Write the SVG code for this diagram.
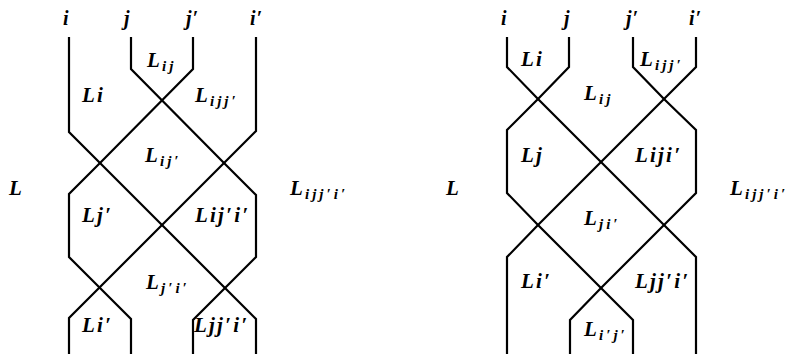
<svg xmlns="http://www.w3.org/2000/svg" width="790" height="354" viewBox="0 0 790 354">
<style>
.s{fill:none;stroke:#000;stroke-width:2.2;stroke-linejoin:miter}
text{font-family:"Liberation Serif","DejaVu Serif",serif;font-style:italic;font-weight:bold;font-size:21px;fill:#000;letter-spacing:2.2px}
.sb{font-size:15px;letter-spacing:3px}
.top{font-size:20px;letter-spacing:1px}
</style>
<rect width="790" height="354" fill="#fff"/>
<g id="left-strands">
<polyline class="s" points="69,37 69,132 100,163 162,225 224,287 256,319 256,354"/>
<polyline class="s" points="131,37 131,69 224,163 256,195 256,257 224,289 193,320 193,354"/>
<polyline class="s" points="193,37 193,69 100,163 69,194 69,257 100,288 131,319 131,354"/>
<polyline class="s" points="256,37 256,131 224,163 162,225 100,287 69,318 69,354"/>
</g>
<g id="left-labels">
<g id="l-i"><text class="top" x="63" y="25">i</text></g>
<g id="l-j"><text class="top" x="124" y="25">j</text></g>
<g id="l-jp"><text class="top" x="186" y="25">j′</text></g>
<g id="l-ip"><text class="top" x="250" y="25">i′</text></g>
<g id="l-Lij"><text x="147" y="67">L<tspan class="sb" dy="4">ij</tspan></text></g>
<g id="l-Li"><text x="82" y="102">Li</text></g>
<g id="l-Lijj"><text x="195" y="102">L<tspan class="sb" dy="4">ijj′</tspan></text></g>
<g id="l-Lijp"><text x="145" y="162">L<tspan class="sb" dy="4">ij′</tspan></text></g>
<g id="l-L"><text x="9" y="195">L</text></g>
<g id="l-Lijjii"><text x="290" y="195">L<tspan class="sb" dy="4">ijj′i′</tspan></text></g>
<g id="l-Ljp"><text x="82" y="222">Lj′</text></g>
<g id="l-Lijpip"><text x="195" y="222">Lij′i′</text></g>
<g id="l-Ljpip"><text x="146" y="289">L<tspan class="sb" dy="4">j′i′</tspan></text></g>
<g id="l-Lip"><text x="82" y="332">Li′</text></g>
<g id="l-Ljjpip"><text x="194" y="332">Ljj′i′</text></g>
</g>
<g id="right-strands">
<polyline class="s" points="507,37 507,67 538,99 601,162 664,225 696,257 696,354"/>
<polyline class="s" points="569,37 569,67 538,99 507,130 507,193 538,225 601,288 633,320 633,354"/>
<polyline class="s" points="633,37 633,67 664,99 696,130 696,193 664,225 601,288 570,320 570,354"/>
<polyline class="s" points="696,37 696,67 664,99 601,162 538,225 507,257 507,354"/>
</g>
<g id="right-labels">
<g id="r-i"><text class="top" x="501" y="25">i</text></g>
<g id="r-j"><text class="top" x="564" y="25">j</text></g>
<g id="r-jp"><text class="top" x="626" y="25">j′</text></g>
<g id="r-ip"><text class="top" x="689" y="25">i′</text></g>
<g id="r-Li"><text x="521" y="66">Li</text></g>
<g id="r-Lijj"><text x="640" y="66">L<tspan class="sb" dy="4">ijj′</tspan></text></g>
<g id="r-Lij"><text x="584" y="100">L<tspan class="sb" dy="4">ij</tspan></text></g>
<g id="r-Lj"><text x="521" y="162">Lj</text></g>
<g id="r-Liji"><text x="635" y="162">Liji′</text></g>
<g id="r-L"><text x="446" y="195">L</text></g>
<g id="r-Lijjii"><text x="730" y="195">L<tspan class="sb" dy="4">ijj′i′</tspan></text></g>
<g id="r-Lji"><text x="584" y="225">L<tspan class="sb" dy="4">ji′</tspan></text></g>
<g id="r-Lip"><text x="521" y="288">Li′</text></g>
<g id="r-Ljjpip"><text x="635" y="288">Ljj′i′</text></g>
<g id="r-Lipjp"><text x="584" y="336">L<tspan class="sb" dy="4">i′j′</tspan></text></g>
</g>
</svg>
